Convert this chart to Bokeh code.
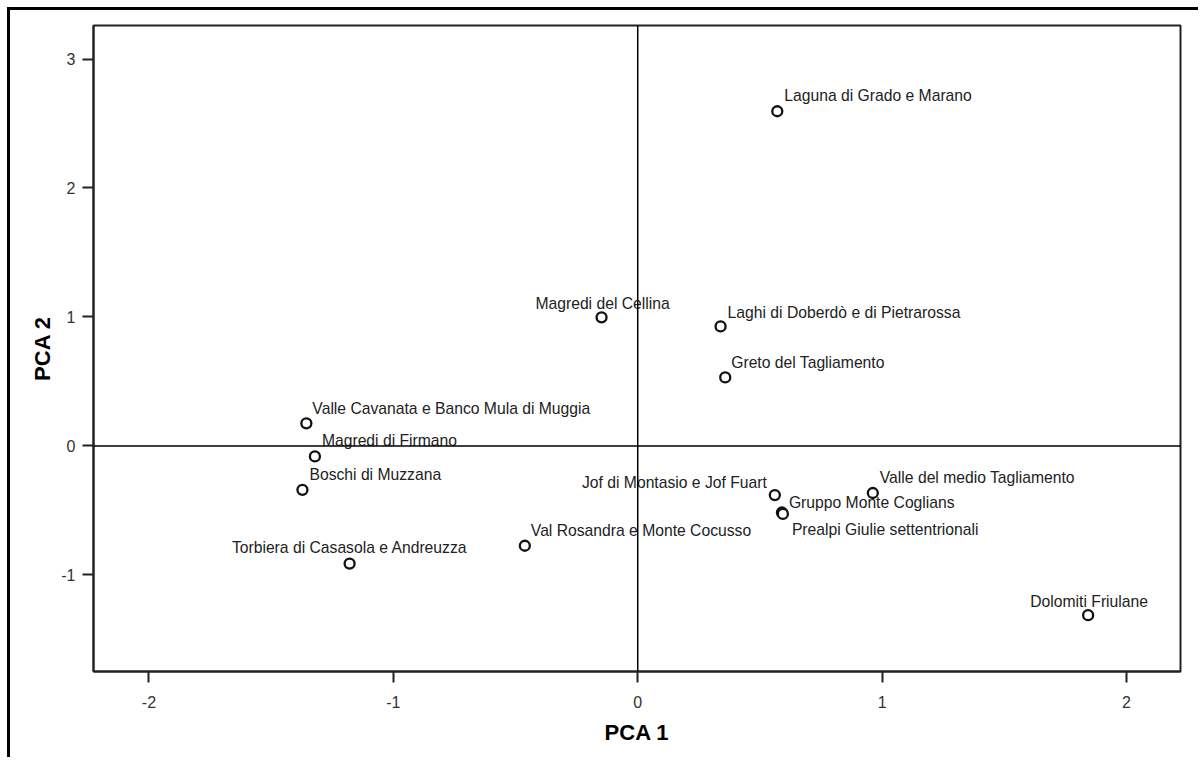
from bokeh.plotting import figure
from bokeh.models import Span, ColumnDataSource, FixedTicker, Range1d
from bokeh.core.properties import value
from bokeh.embed import file_html
from bokeh.resources import INLINE

# ---- data ----
sites = [
    "Laguna di Grado e Marano",
    "Magredi del Cellina",
    "Laghi di Doberdò e di Pietrarossa",
    "Greto del Tagliamento",
    "Valle Cavanata e Banco Mula di Muggia",
    "Magredi di Firmano",
    "Boschi di Muzzana",
    "Torbiera di Casasola e Andreuzza",
    "Val Rosandra e Monte Cocusso",
    "Jof di Montasio e Jof Fuart",
    "Valle del medio Tagliamento",
    "Gruppo Monte Coglians",
    "Prealpi Giulie settentrionali",
    "Dolomiti Friulane",
]
pca1 = [0.571, -0.148, 0.339, 0.358, -1.356, -1.321, -1.372, -1.179, -0.462, 0.561, 0.962, 0.590, 0.594, 1.843]
pca2 = [2.595, 0.997, 0.927, 0.531, 0.175, -0.081, -0.340, -0.912, -0.774, -0.381, -0.365, -0.516, -0.527, -1.312]
x_ticks = [-2, -1, 0, 1, 2]
y_ticks = [-1, 0, 1, 2, 3]

# label placement (screen pixel offsets relative to each point)
label_align = ["left", "center", "left", "left", "left", "left", "left", "center",
               "left", "right", "left", "left", "left", "center"]
label_dx = [7, 1, 7, 6, 6, 7, 7, 0, 6, -8, 7, 7, 9, 1]
label_dy = [-16, -14, -14, -15, -15, -16, -15, -16, -15, -13, -16, -10, 16, -14]

src = ColumnDataSource(dict(x=pca1, y=pca2, name=sites, align=label_align,
                            dx=label_dx, dy=label_dy))

p = figure(width=1191, height=750, output_backend="svg", toolbar_location=None,
           x_range=Range1d(-2.227, 2.221), y_range=Range1d(-1.749, 3.26),
           min_border_left=83, min_border_right=21, min_border_top=15, min_border_bottom=89)
p.styles = {"border-top": "3px solid black", "border-left": "3px solid black",
            "margin-left": "7px", "margin-top": "7px"}

p.grid.visible = False
p.outline_line_color = "#222222"
p.outline_line_width = 2
p.background_fill_color = "white"
p.border_fill_color = "white"

for ax in (p.xaxis[0], p.yaxis[0]):
    ax.axis_line_color = "#222222"
    ax.axis_line_width = 2
    ax.major_tick_line_color = "#222222"
    ax.major_tick_line_width = 2
    ax.major_tick_out = 11
    ax.major_tick_in = 0
    ax.minor_tick_line_color = None
    ax.major_label_text_font = "Liberation Sans"
    ax.major_label_text_font_size = "16px"
    ax.major_label_text_color = "#333333"
    ax.axis_label_text_font = "Liberation Sans"
    ax.axis_label_text_font_style = "bold"
    ax.axis_label_text_font_size = "22px"
    ax.axis_label_text_color = "black"

p.xaxis.ticker = FixedTicker(ticks=x_ticks)
p.yaxis.ticker = FixedTicker(ticks=y_ticks)
p.xaxis.major_label_overrides = {t: str(t) for t in x_ticks}
p.yaxis.major_label_overrides = {t: str(t) for t in y_ticks}
p.xaxis.major_label_standoff = 13
p.yaxis.major_label_standoff = 7
p.xaxis.axis_label = "PCA 1"
p.yaxis.axis_label = "PCA 2"
p.xaxis.axis_label_standoff = 9
p.yaxis.axis_label_standoff = 3
p.yaxis.major_label_orientation = "horizontal"

p.add_layout(Span(location=0, dimension="height", line_color="black", line_width=1.5))
p.add_layout(Span(location=0, dimension="width", line_color="black", line_width=1.5))

p.scatter("x", "y", source=src, size=10, fill_color="white", line_color="#111111",
          line_width=2.3)
p.text("x", "y", text="name", source=src, x_offset="dx", y_offset="dy",
       text_align="align", text_baseline="middle",
       text_font=value("Liberation Sans"), text_font_size="15.7px", text_color="#222222")

open("out.html", "w").write(file_html(p, INLINE))
